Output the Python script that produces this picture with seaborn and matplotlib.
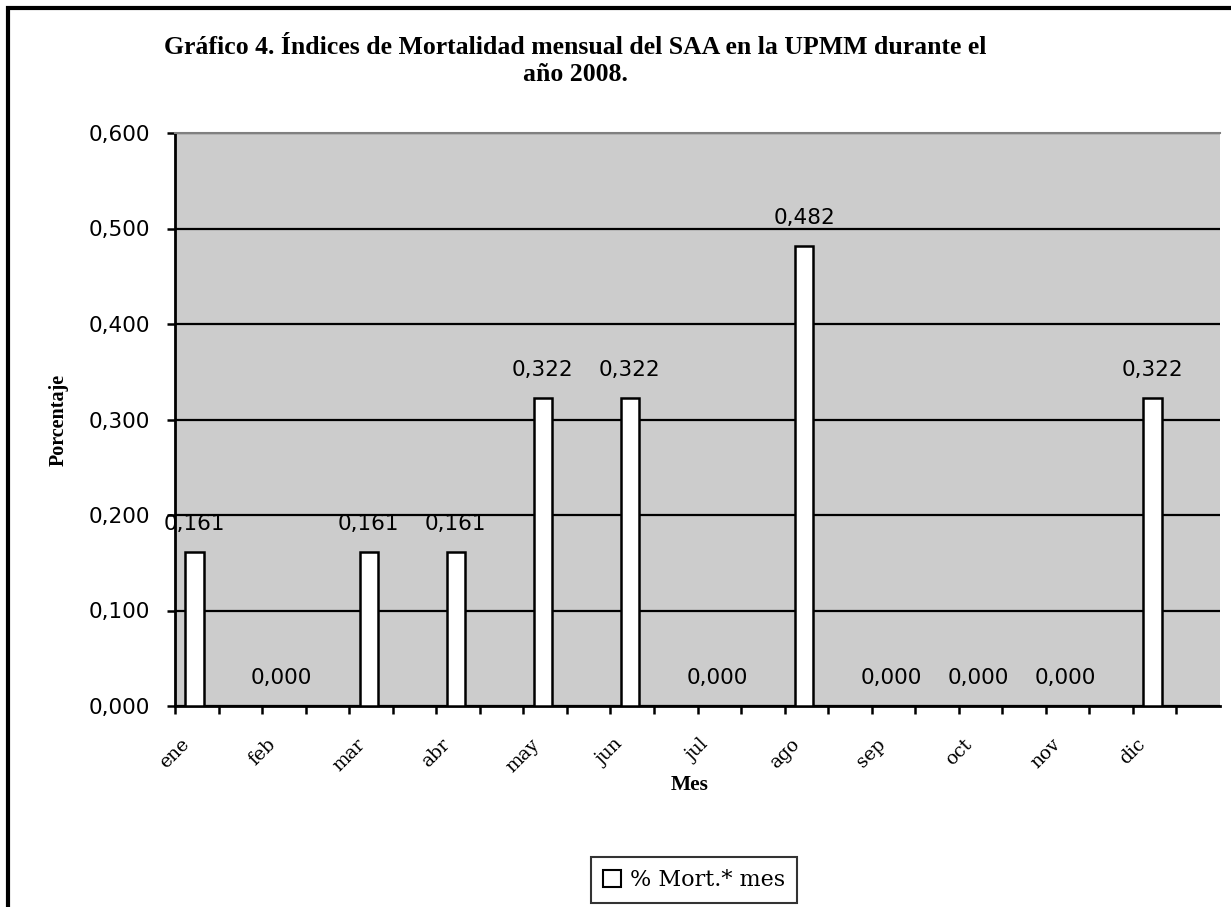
import numpy as np
import pandas as pd
import matplotlib
matplotlib.use('Agg')
import matplotlib.pyplot as plt
import seaborn as sns
from matplotlib.patches import Rectangle
from matplotlib.ticker import FuncFormatter

meses = ['ene', 'feb', 'mar', 'abr', 'may', 'jun', 'jul', 'ago', 'sep', 'oct', 'nov', 'dic']
mortalidad = [0.161, 0.000, 0.161, 0.161, 0.322, 0.322, 0.000, 0.482, 0.000, 0.000, 0.000, 0.322]
y_ticks = [0.0, 0.1, 0.2, 0.3, 0.4, 0.5, 0.6]

df = pd.DataFrame({'Mes': meses, 'valor': mortalidad})

sans = ['DejaVu Sans']
serif = ['DejaVu Serif']
times = ['Liberation Serif']

fig = plt.figure(figsize=(12.31, 9.07), dpi=100)
ax = fig.add_axes([175 / 1231, 1 - 706 / 907, 1045 / 1231, 573 / 907])
ax.set_facecolor('#cccccc')

sns.barplot(data=df, x='Mes', y='valor', color='white', edgecolor='black',
            linewidth=1.8, width=0.21, saturation=1, ax=ax, zorder=3)

# offset so the bar sits near the left of each month slot
off = 0.224
ax.set_xlim(-off, len(meses) - off)
ax.set_ylim(0, 0.6)
ax.set_yticks(y_ticks)
ax.yaxis.set_major_formatter(FuncFormatter(lambda v, p: f'{v:.3f}'.replace('.', ',')))
for lab in ax.get_yticklabels():
    lab.set_family(sans)
    lab.set_fontsize(15.5)

ax.set_xticks(np.arange(len(meses)) - off)
ax.set_xticklabels(meses, rotation=45, ha='center', va='top',
                   family=serif, fontsize=13.5)
ax.set_xticks(np.arange(len(meses)) + 0.5 - off, minor=True)
ax.tick_params(axis='x', which='both', direction='out', length=6, width=1.8, pad=15)
ax.tick_params(axis='y', direction='out', length=6, width=1.8, pad=12)

ax.yaxis.grid(True, color='black', linewidth=1.6)
ax.set_axisbelow(True)
for s in ['left', 'bottom']:
    ax.spines[s].set_linewidth(2)
    ax.spines[s].set_color('black')
ax.spines['right'].set_visible(False)
ax.spines['top'].set_color('#808080')
ax.spines['top'].set_linewidth(1.5)

for i, v in enumerate(mortalidad):
    ax.annotate(f'{v:.3f}'.replace('.', ','), (i, v), xytext=(0, 13),
                textcoords='offset points', ha='center', va='bottom',
                family=sans, fontsize=15.5, zorder=4)

ax.set_xlabel('Mes', family=times, fontweight='bold', fontsize=15.5)
ax.xaxis.set_label_coords(0.492, -0.12)
ax.set_ylabel('Porcentaje', family=times, fontweight='bold', fontsize=14.5, labelpad=14)

fig.text(575 / 1231, 1 - 61 / 907,
         'Gráfico 4. Índices de Mortalidad mensual del SAA en la UPMM durante el\naño 2008.',
         ha='center', va='center', family=times, fontweight='bold',
         fontsize=18.5, linespacing=1.2)

# legend box
leg = ax.legend(handles=[Rectangle((0, 0), 1, 1, facecolor='white', edgecolor='black', linewidth=1.5)],
                labels=['% Mort.* mes'], loc='center', bbox_to_anchor=(694 / 1231, 1 - 880 / 907),
                bbox_transform=fig.transFigure, frameon=True, fancybox=False,
                prop={'family': serif, 'size': 16}, handlelength=0.8, handleheight=0.8,
                handletextpad=0.4, borderpad=0.55, borderaxespad=0)
leg.get_frame().set_edgecolor('black')
leg.get_frame().set_linewidth(1.5)

# outer chart border (top and left visible)
fig.patches.append(Rectangle((8 / 1231, -0.1), 1.2, 1.1 - 8 / 907, transform=fig.transFigure,
                             fill=False, edgecolor='black', linewidth=3))

fig.savefig('out.png', dpi=100)
